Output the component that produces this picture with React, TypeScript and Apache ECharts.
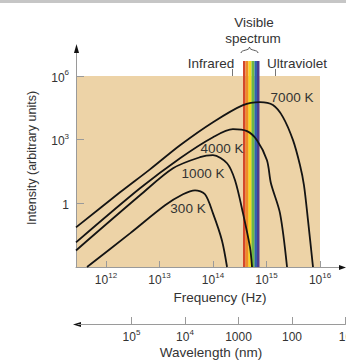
import React, { useEffect, useRef } from 'react';
import * as echarts from 'echarts';

// Axis ranges
const FREQ_MIN = 2.75e11;
const FREQ_MAX = 1e16;
const INT_MIN = 1e-3;
const INT_MAX = 1e6;
const VISIBLE_TOP = 5.1e6;
const WAVE_MIN = 10;
const WAVE_MAX = 1e6;

// Blackbody curves: [frequency (Hz), intensity (arbitrary units)]
const curveNames = ['7000 K', '4000 K', '1000 K', '300 K'];
const curve7000K = [
  [2.75e11, 0.0735], [1.83e12, 3.3], [6.64e12, 40], [2.42e13, 550], [1e14, 6700],
  [3.64e14, 42700], [7.56e14, 59000], [1.32e15, 42700], [2.03e15, 11600], [3.13e15, 947],
  [4.23e15, 62.4], [5.02e15, 7.09], [5.97e15, 0.157], [7.4e15, 0.001],
];
const curve4000K = [
  [2.75e11, 0.0144], [4.32e12, 5.11], [2.42e13, 134], [1e14, 1310], [2.36e14, 3130],
  [4.32e14, 2520], [6.64e14, 947], [1.02e15, 107], [1.21e15, 8.81], [1.79e15, 0.337],
  [2.42e15, 0.001],
];
const curve1000K = [
  [2.75e11, 0.00602], [4.32e12, 2.39], [1.79e13, 45], [5.71e13, 149], [1e14, 185],
  [1.83e14, 77.6], [2.58e14, 12.2], [3.64e14, 0.337], [4.92e14, 0.00834], [5.36e14, 0.001],
];
const curve300K = [
  [4.42e11, 0.001], [2.81e12, 0.0383], [1.27e13, 0.805], [2.75e13, 2.66], [4.61e13, 4.11],
  [7.08e13, 2.66], [1e14, 0.337], [1.47e14, 0.0179], [1.83e14, 0.001],
];
const curves = [curve7000K, curve4000K, curve1000K, curve300K];

// Visible spectrum stripe edges (Hz)
const visibleEdges = [3.64e14, 4.05e14, 4.61e14, 5.25e14, 5.97e14, 6.64e14, 7.39e14];
const visibleColors = ['#D4472B', '#F08A26', '#F5D820', '#6CB646', '#2E62AE', '#4B3B91'];

const FONT = '"Liberation Sans", Arial, sans-serif';
const TEXT = '#333';

const supRich = {
  b: { fontSize: 12, color: TEXT, fontFamily: FONT, lineHeight: 15, verticalAlign: 'bottom' as const },
  s: { fontSize: 8, color: TEXT, fontFamily: FONT, lineHeight: 15, verticalAlign: 'top' as const },
  n: { fontSize: 12, color: TEXT, fontFamily: FONT, lineHeight: 15, verticalAlign: 'bottom' as const },
};

const powLabel = (v: number) => {
  const e = Math.log10(v);
  const r = Math.round(e);
  if (Math.abs(e - r) > 1e-6) return '';
  return `{b|10}{s|${r}}`;
};

export default function App() {
  const ref = useRef<HTMLDivElement>(null);
  useEffect(() => {
    if (!ref.current) return;
    const chart = echarts.init(ref.current, null, { renderer: 'svg' });
    const stripeData = visibleEdges.slice(0, -1).map((e, i) => [e, visibleEdges[i + 1], VISIBLE_TOP]);
    const txt = (text: string, x: number, y: number, size = 13, extra: any = {}) => ({
      type: 'text', x, y, z: 100,
      style: { text, fill: TEXT, font: `${size}px ${FONT}`, align: 'center', verticalAlign: 'middle', ...extra },
    });
    const option: any = {
      animation: false,
      grid: [
        { left: 76, top: 76, width: 244, height: 191, show: true, backgroundColor: '#EDD3A7', borderWidth: 0, containLabel: false, outerBoundsMode: 'none' },
        { left: 78, top: 317, width: 267.5, height: 7, show: false, containLabel: false, outerBoundsMode: 'none' },
      ],
      xAxis: [
        {
          gridIndex: 0, type: 'log', min: FREQ_MIN, max: FREQ_MAX,
          axisLine: { lineStyle: { color: '#9a9a9a', width: 1 } },
          axisTick: { inside: true, length: 6, lineStyle: { color: '#9a9a9a' } },
          axisLabel: { formatter: powLabel, rich: supRich, margin: 4 },
          splitLine: { show: false },
        },
        {
          gridIndex: 1, type: 'log', min: WAVE_MIN, max: WAVE_MAX, inverse: true, position: 'bottom',
          axisLine: { lineStyle: { color: '#9a9a9a', width: 1 } },
          axisTick: { show: false },
          splitLine: { show: true, showMinLine: true, showMaxLine: false, lineStyle: { color: '#9a9a9a', width: 1 } },
          axisLabel: {
            margin: 4, rich: supRich,
            formatter: (v: number) => {
              const r = Math.round(Math.log10(v));
              if (r >= 6) return '';
              if (r >= 4) return `{b|10}{s|${r}}`;
              return `{n|${Math.round(v)}}`;
            },
          },
        },
      ],
      yAxis: [
        {
          gridIndex: 0, type: 'log', logBase: 1000, min: INT_MIN, max: INT_MAX,
          axisLine: { show: true, lineStyle: { color: '#9a9a9a', width: 1 } },
          axisTick: { show: true, inside: true, length: 8, lineStyle: { color: '#9a9a9a' } },
          axisLabel: {
            margin: 7, rich: supRich,
            formatter: (v: number) => {
              const r = Math.round(Math.log10(v));
              if (r < 0) return '';
              if (r === 0) return '{n|1}';
              return `{b|10}{s|${r}}`;
            },
          },
          splitLine: { show: false },
        },
        { gridIndex: 1, type: 'value', show: false },
      ],
      series: [
        {
          type: 'custom', xAxisIndex: 0, yAxisIndex: 0, clip: false, z: 1,
          encode: { x: [0, 1], y: 2 },
          data: stripeData,
          renderItem: (params: any, api: any) => {
            const a = api.coord([api.value(0), INT_MIN]);
            const b = api.coord([api.value(1), api.value(2)]);
            return {
              type: 'rect',
              shape: { x: a[0], y: b[1], width: b[0] - a[0], height: a[1] - b[1] },
              style: { fill: visibleColors[params.dataIndex] },
            };
          },
        },
        ...curves.map((d, i) => ({
          name: curveNames[i], type: 'line', xAxisIndex: 0, yAxisIndex: 0, z: 3,
          data: d, smooth: 0.3, showSymbol: false, symbol: 'none',
          lineStyle: { color: '#141414', width: 1.8 },
        })),
      ],
      graphic: [
        { type: 'rect', shape: { x: 0, y: 0, width: 346, height: 3 }, style: { fill: '#c6c6c6' } },
        // axis extensions and arrows
        { type: 'line', shape: { x1: 76.5, y1: 50, x2: 76.5, y2: 76 }, style: { stroke: '#9a9a9a', lineWidth: 1 } },
        { type: 'polygon', shape: { points: [[76.5, 44], [74, 53], [79, 53]] }, style: { fill: '#111' } },
        { type: 'line', shape: { x1: 320, y1: 267.5, x2: 342, y2: 267.5 }, style: { stroke: '#9a9a9a', lineWidth: 1 } },
        { type: 'polygon', shape: { points: [[346, 267.5], [339, 265], [339, 270]] }, style: { fill: '#111' } },
        { type: 'polygon', shape: { points: [[73, 324.5], [81, 322], [81, 327]] }, style: { fill: '#111' } },
        // top annotations
        txt('Visible', 254, 22, 13.5),
        txt('spectrum', 253, 38, 13.5),
        txt('Infrared', 211, 63, 13.5),
        txt('Ultraviolet', 297, 63, 13.5),
        { type: 'line', shape: { x1: 232.5, y1: 69, x2: 232.5, y2: 76 }, style: { stroke: '#777', lineWidth: 1 } },
        { type: 'line', shape: { x1: 275.5, y1: 69, x2: 275.5, y2: 76 }, style: { stroke: '#777', lineWidth: 1 } },
        { type: 'bezierCurve', shape: { x1: 241, y1: 53, x2: 249.5, y2: 47, cpx1: 241, cpy1: 49.5, cpx2: 249.5, cpy2: 51 }, style: { stroke: '#555', lineWidth: 1, fill: 'none' } },
        { type: 'bezierCurve', shape: { x1: 258, y1: 53, x2: 249.5, y2: 47, cpx1: 258, cpy1: 49.5, cpx2: 249.5, cpy2: 51 }, style: { stroke: '#555', lineWidth: 1, fill: 'none' } },
        // curve labels
        txt('7000 K', 292, 97, 13.5),
        txt('4000 K', 222, 148, 13.5),
        txt('1000 K', 203, 173, 13.5),
        txt('300 K', 188, 208, 13.5),
        // axis titles
        txt('Frequency (Hz)', 220, 297, 13.5),
        txt('Wavelength (nm)', 211, 352, 13.5),
        { type: 'text', x: 32, y: 158, rotation: Math.PI / 2, z: 100,
          style: { text: 'Intensity (arbitrary units)', fill: TEXT, font: `12.5px ${FONT}`, align: 'center', verticalAlign: 'middle' } },
      ],
    };
    chart.setOption(option);
    return () => chart.dispose();
  }, []);
  return <div ref={ref} style={{ width: 346, height: 360, position: 'absolute', left: 0, top: 0 }} />;
}
